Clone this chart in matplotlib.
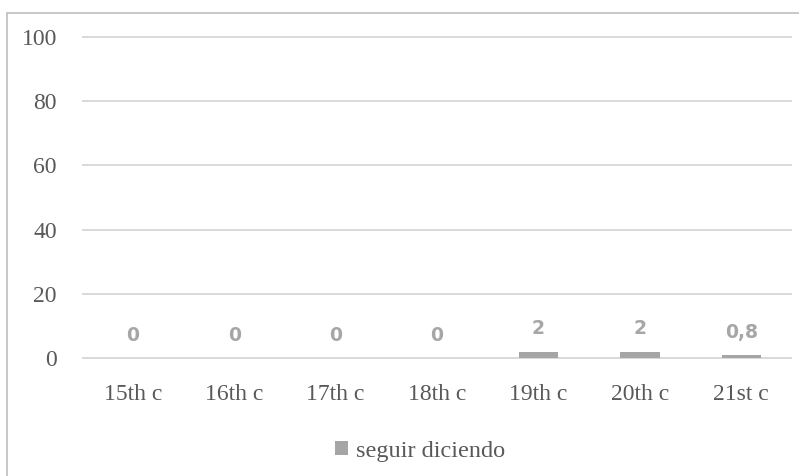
import matplotlib.pyplot as plt
from matplotlib.patches import Rectangle

# Century buckets and the share (%) of "seguir diciendo" in each
centuries = ["15th c", "16th c", "17th c", "18th c", "19th c", "20th c", "21st c"]
values = [0, 0, 0, 0, 2, 2, 0.8]
value_labels = ["0", "0", "0", "0", "2", "2", "0,8"]
series_name = "seguir diciendo"
y_ticks = [0, 20, 40, 60, 80, 100]

W, H = 799, 476
BAR_COLOR = "#a5a5a5"
GRID_COLOR = "#d9d9d9"
TEXT_COLOR = "#595959"
LABEL_COLOR = "#a6a6a6"
SERIF = "Liberation Serif"

fig = plt.figure(figsize=(W / 100, H / 100), dpi=100)
fig.patch.set_facecolor("white")

# chart frame (only the left and top edges fall inside the image)
fig.add_artist(Rectangle((7 / W, -0.1), 1.2, (H - 13) / H + 0.1,
                         transform=fig.transFigure, fill=False,
                         edgecolor="#bfbfbf", linewidth=1.2))

left, right = 82 / W, 792 / W
bottom, top = (H - 358) / H, (H - 37) / H
ax = fig.add_axes([left, bottom, right - left, top - bottom])

x = list(range(len(centuries)))
ax.bar(x, values, width=0.39, color=BAR_COLOR, label=series_name, zorder=3)

ax.set_xlim(-0.5, len(centuries) - 0.5)
ax.set_ylim(0, 100)
ax.hlines(y_ticks, -0.5, len(centuries) - 0.5, colors=GRID_COLOR,
          linewidth=1.4, clip_on=False, zorder=1)

for s in ax.spines.values():
    s.set_visible(False)

ax.set_yticks(y_ticks)
ax.set_yticklabels([str(t) for t in y_ticks])
ax.set_xticks(x)
ax.set_xticklabels(centuries)
ax.tick_params(axis="both", length=0, colors=TEXT_COLOR, labelsize=17)
ax.tick_params(axis="y", pad=18)
ax.tick_params(axis="x", pad=19)
for lbl in ax.get_xticklabels() + ax.get_yticklabels():
    lbl.set_fontfamily(SERIF)

for xi, v, txt in zip(x, values, value_labels):
    ax.annotate(txt, (xi, v), xytext=(0, 12.5), textcoords="offset points",
                ha="center", va="baseline", fontsize=13.5,
                fontweight="bold", color=LABEL_COLOR, family="DejaVu Sans")

leg = fig.legend(loc="center", bbox_to_anchor=(420 / W, (H - 451) / H),
                 frameon=False, handlelength=0.55, handleheight=0.55,
                 handletextpad=0.3,
                 prop={"family": SERIF, "size": 17.5})
for t in leg.get_texts():
    t.set_color(TEXT_COLOR)

fig.savefig("out.png", dpi=100)
